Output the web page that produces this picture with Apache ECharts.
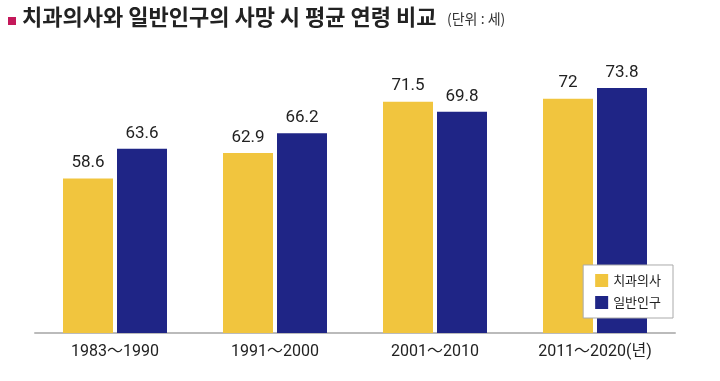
<!DOCTYPE html>
<html><head><meta charset="utf-8">
<script src="https://cdn.jsdelivr.net/npm/echarts@6/dist/echarts.min.js"></script>
<style>html,body{margin:0;padding:0;background:#fff}#c{width:720px;height:381px}</style>
</head><body><div id="c"></div>
<script>
const categories = ['1983～1990', '1991～2000', '2001～2010', '2011～2020(년)'];
const dentists = [58.6, 62.9, 71.5, 72];
const general = [63.6, 66.2, 69.8, 73.8];
const seriesNames = ['치과의사', '일반인구'];

const numFont = '"Roboto","Noto Sans CJK KR",sans-serif';
const chart = echarts.init(document.getElementById('c'));
chart.setOption({
  backgroundColor: '#fff',
  animation: false,
  graphic: [
    {type: 'rect', shape: {x: 8, y: 17, width: 8, height: 8}, style: {fill: '#C4185A'}},
    {type: 'text', left: 22, top: 6, style: {text: '치과의사와 일반인구의 사망 시 평균 연령 비교', font: 'bold 22px "Noto Sans CJK KR"', fill: '#222'}},
    {type: 'text', left: 447, top: 12, style: {text: '(단위 : 세)', font: '14px "Noto Sans CJK KR"', fill: '#333'}}
  ],
  grid: {left: 35, right: 45, top: 60, bottom: 48},
  legend: {
    orient: 'vertical', right: 47, bottom: 63,
    itemWidth: 13, itemHeight: 13, itemGap: 9,
    padding: [9, 12, 9, 12],
    borderColor: '#aaa', borderWidth: 1, backgroundColor: '#fff',
    icon: 'rect',
    textStyle: {fontFamily: '"Noto Sans CJK KR"', fontSize: 13, color: '#222'},
    data: seriesNames
  },
  xAxis: {
    type: 'category', data: categories,
    axisLine: {lineStyle: {color: '#bbb', width: 2}},
    axisTick: {show: false},
    axisLabel: {margin: 11, fontSize: 16, color: '#222', fontFamily: numFont}
  },
  yAxis: {type: 'value', min: 32.7, max: 78.5, show: false, splitLine: {show: false}},
  series: [
    {name: seriesNames[0], type: 'bar', data: dentists, barWidth: 50, barGap: '8%',
     itemStyle: {color: '#F1C53E'},
     label: {show: true, position: 'top', distance: 7, fontSize: 17, color: '#222', fontFamily: numFont}},
    {name: seriesNames[1], type: 'bar', data: general, barWidth: 50,
     itemStyle: {color: '#1F2586'},
     label: {show: true, position: 'top', distance: 7, fontSize: 17, color: '#222', fontFamily: numFont}}
  ]
});
</script></body></html>
